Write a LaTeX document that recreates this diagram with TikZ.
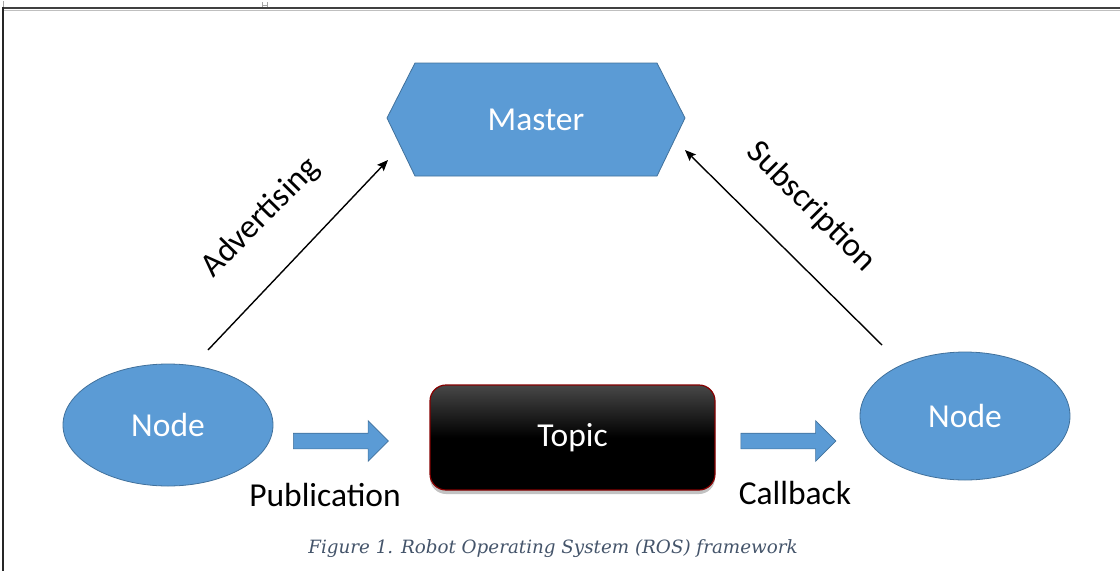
\documentclass[tikz,border=0pt]{standalone}
\usepackage{fontspec}
\setmainfont{Carlito}
\newfontfamily\capfont{DejaVu Serif}
\usetikzlibrary{shapes.geometric,shapes.arrows,shadows,arrows.meta}
\definecolor{officeblue}{RGB}{91,155,213}
\definecolor{officeedge}{RGB}{65,113,156}
\definecolor{capcol}{RGB}{68,84,106}
\definecolor{topicred}{RGB}{192,0,0}
\tikzset{
  big/.style={font=\fontsize{33.5}{40}\selectfont},
  nodeell/.style={ellipse, fill=officeblue, draw=officeedge, line width=0.8pt,
     minimum width=210pt, minimum height=122pt, inner sep=0pt, text=white, big},
  blockarrow/.style={single arrow, fill=officeblue, draw=officeedge, line width=0.6pt,
     minimum height=95pt, minimum width=40pt, single arrow head extend=12.5pt,
     single arrow head indent=0pt, inner xsep=0pt, inner ysep=7.5pt},
  thinarrow/.style={line width=1.4pt, -{Stealth[length=11pt,width=9pt,inset=2pt]}},
  lbl/.style={big, text=black, inner sep=0pt},
}
\begin{document}
\begin{tikzpicture}[x=1pt,y=-1pt]
\useasboundingbox (0,0) rectangle (1120,571);
% frame
\draw[line width=2.2pt, black!75] (3,8) -- (1120,8);
\draw[line width=1pt, black!25] (3,10.5) -- (1120,10.5);
\draw[line width=1.6pt, black!85] (3,7) -- (3,571);
\draw[line width=0.8pt, black!35] (3,1) -- (3,7);
\draw[line width=0.8pt, black!35] (262.5,2) -- (262.5,7) (267,2) -- (267,7) (262.5,5) -- (267,5);
% master hexagon
\draw[fill=officeblue, draw=officeedge, line width=0.8pt]
  (387,118) -- (415,63) -- (657,63) -- (685,118) -- (657,176) -- (415,176) -- cycle;
\node[big, text=white, minimum width=298pt, minimum height=113pt, inner sep=0pt] (master) at (536,119.5) {Master};
% nodes
\node[nodeell] (nodeL) at (168,425) {Node};
\node[nodeell, minimum height=128pt] (nodeR) at (965,416) {Node};
% topic
\node[rounded corners=16pt, draw=topicred!70!black, line width=1.2pt,
  top color=black!72, bottom color=black, middle color=black,
  shading angle=0, minimum width=285pt, minimum height=105pt,
  text=white, big,
  drop shadow={opacity=0.4, fill=black!60, shadow xshift=0pt, shadow yshift=-4pt}] (topic) at (572.5,437.5) {Topic};
% block arrows
\node[blockarrow] (pubarrow) at (337,441) {};
\node[blockarrow] (cbarrow) at (784.5,441) {};
% labels
\node[lbl] (pub) at (325,495) {Publication};
\node[lbl] (cb) at (795,493) {Callback};
% thin arrows
\coordinate (advS) at (208,350);
\coordinate (advE) at (388,160);
\coordinate (subS) at (882,345);
\coordinate (subE) at (685,150);
\draw[thinarrow] (advS) -- (advE);
\draw[thinarrow] (subS) -- (subE);
\node[lbl, rotate=45.5] (adv) at (261,218) {Advertising};
\node[lbl, rotate=-45] (sub) at (811,207) {Subscription};
% caption
\node[font=\capfont\itshape\fontsize{18.3}{22}\selectfont, text=capcol, inner sep=0pt] (cap) at (553,549) {Figure 1. Robot Operating System (ROS) framework};
\end{tikzpicture}
\end{document}
